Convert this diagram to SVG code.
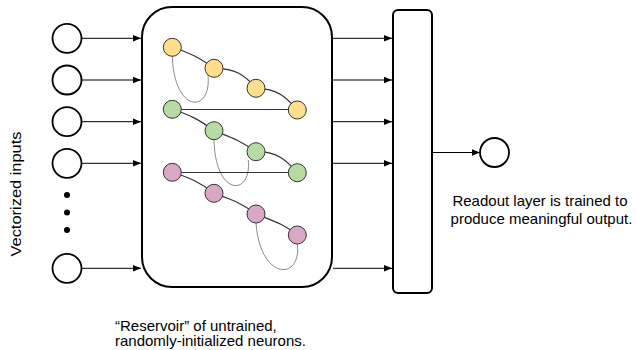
<svg xmlns="http://www.w3.org/2000/svg" width="636" height="350" viewBox="0 0 636 350">
  <style>
    .io { fill: #ffffff; stroke: #000000; stroke-width: 1.8; }
    .box { fill: #ffffff; stroke: #000000; stroke-width: 2; }
    .arrow { fill: none; stroke: #000000; stroke-width: 1; marker-end: url(#head); }
    .link { fill: none; stroke: #333333; stroke-width: 1.2; }
    .loop { fill: none; stroke: #8c8c8c; stroke-width: 1; }
    .n { stroke: #333333; stroke-width: 1; }
    .y { fill: #ffde8c; }
    .g { fill: #b6dba3; }
    .p { fill: #d9a8c6; }
    .label { font-family: "Liberation Sans", Arial, sans-serif; font-size: 15px; fill: #000000; }
  </style>
  <defs>
    <marker id="head" viewBox="0 0 8 8" refX="8" refY="4" markerWidth="8" markerHeight="8" markerUnits="userSpaceOnUse" orient="auto">
      <path d="M0,0.8 L8,4 L0,7.2 Z" fill="#000000"/>
    </marker>
  </defs>

  <!-- connectors -->
  <g id="connectors">
    <path class="arrow" d="M82,38.3 H141"/>
    <path class="arrow" d="M82,80 H141"/>
    <path class="arrow" d="M82,121.7 H141"/>
    <path class="arrow" d="M82,163.3 H141"/>
    <path class="arrow" d="M82,268.3 H141"/>
    <path class="arrow" d="M333,38.3 H392"/>
    <path class="arrow" d="M333,80 H392"/>
    <path class="arrow" d="M333,121.7 H392"/>
    <path class="arrow" d="M333,163.3 H392"/>
    <path class="arrow" d="M333,268.3 H392"/>
    <path class="arrow" d="M433,152.5 H480"/>
  </g>

  <!-- input neurons -->
  <g id="inputs">
    <circle class="io" cx="67" cy="38.3" r="14.5"/>
    <circle class="io" cx="67" cy="80" r="14.5"/>
    <circle class="io" cx="67" cy="121.7" r="14.5"/>
    <circle class="io" cx="67" cy="163.3" r="14.5"/>
    <circle cx="67" cy="195" r="3"/>
    <circle cx="67" cy="212.5" r="3"/>
    <circle cx="67" cy="230" r="3"/>
    <circle class="io" cx="67" cy="268.3" r="14.5"/>
  </g>
  <text class="label" transform="translate(20.5,194) rotate(-90)" text-anchor="middle" font-size="16" textLength="125" lengthAdjust="spacingAndGlyphs">Vectorized inputs</text>

  <!-- reservoir -->
  <g id="reservoir">
    <rect class="box" x="142" y="7" width="190" height="280" rx="30" ry="30"/>
    <g id="reservoir-links">
      <path class="loop" d="M172.3,56 C174,114 212,114 208,75"/>
      <path class="loop" d="M214,139.7 C215,197 252,197 248.3,160"/>
      <path class="loop" d="M256,223 C260,281 302,281 297.3,244"/>
      <path class="link" d="M172.3,47.3 C190,53 200,58 214,68.3"/>
      <path class="link" d="M214,68.3 C235,68 245,75 256,88.3"/>
      <path class="link" d="M256,88.3 C277,88 287,98 297.3,110"/>
      <path class="link" d="M172.3,109.5 H297.3"/>
      <path class="link" d="M172.3,109.3 C190,115 200,120 214,130.7"/>
      <path class="link" d="M214,130.7 C230,137 240,140 256,151.7"/>
      <path class="link" d="M256,151.7 C277,151 287,161 297.3,172.7"/>
      <path class="link" d="M172.3,172.5 H297.3"/>
      <path class="link" d="M172.3,172.3 C190,178 200,182 214,193.3"/>
      <path class="link" d="M214,193.3 C230,199 240,202 256,214"/>
      <path class="link" d="M256,214 C270,220 283,223 297.3,235"/>
    </g>
    <g id="reservoir-neurons">
      <circle class="n y" cx="172.3" cy="47.3" r="9"/>
      <circle class="n y" cx="214" cy="68.3" r="9"/>
      <circle class="n y" cx="256" cy="88.3" r="9"/>
      <circle class="n y" cx="297.3" cy="110" r="9"/>
      <circle class="n g" cx="172.3" cy="109.3" r="9"/>
      <circle class="n g" cx="214" cy="130.7" r="9"/>
      <circle class="n g" cx="256" cy="151.7" r="9"/>
      <circle class="n g" cx="297.3" cy="172.7" r="9"/>
      <circle class="n p" cx="172.3" cy="172.3" r="9"/>
      <circle class="n p" cx="214" cy="193.3" r="9"/>
      <circle class="n p" cx="256" cy="214" r="9"/>
      <circle class="n p" cx="297.3" cy="235" r="9"/>
    </g>
  </g>
  <text class="label" x="115" y="330.5" font-size="15.3">“Reservoir” of untrained,</text>
  <text class="label" x="115" y="346" font-size="15.3">randomly-initialized neurons.</text>

  <!-- readout layer -->
  <g id="readout">
    <rect class="box" x="393" y="10" width="39" height="283" rx="5" ry="5" stroke-width="1.8"/>
  </g>

  <!-- output neuron -->
  <g id="output">
    <circle class="io" cx="494.5" cy="152.5" r="14.5"/>
  </g>
  <text class="label" x="540" y="205.5" text-anchor="middle">Readout layer is trained to</text>
  <text class="label" x="541.5" y="224" text-anchor="middle">produce meaningful output.</text>
</svg>
